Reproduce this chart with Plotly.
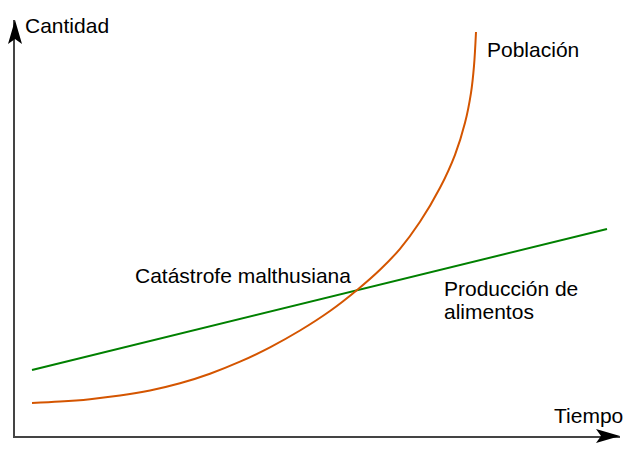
import plotly.graph_objects as go

# units: arbitrary time / quantity (origin at the axes corner)
tiempo_poblacion = [17, 45, 75, 105, 135, 165, 195, 225, 255, 285, 315, 343, 365, 385,
                    405, 425, 440, 450, 456, 459, 461]
poblacion = [33, 34.4, 36.8, 40.4, 45.5, 52.7, 62.3, 74.3, 88.7, 105.5, 125, 146.8, 166.2, 187.2,
             214.2, 248.2, 281.2, 313.2, 343.2, 370.2, 404]

tiempo_alimentos = [17, 592]
alimentos = [66, 207]

etiquetas = [
    ("Cantidad", 8, 411),
    ("Población", 470, 387),
    ("Catástrofe malthusiana", 118, 161),
    ("Producción de", 427, 148),
    ("alimentos", 427, 125),
    ("Tiempo", 537, 21),
]

AXIS = "#444444"
FONT = "Liberation Sans, Arial, sans-serif"

fig = go.Figure()
fig.add_trace(go.Scatter(x=tiempo_alimentos, y=alimentos, mode="lines",
                         line=dict(color="#008000", width=2), hoverinfo="skip"))
fig.add_trace(go.Scatter(x=tiempo_poblacion, y=poblacion, mode="lines",
                         line=dict(color="#d45500", width=2, shape="spline", smoothing=1),
                         hoverinfo="skip"))

for texto, x, y in etiquetas:
    fig.add_annotation(x=x, y=y, text=texto, showarrow=False, xanchor="left", yanchor="middle",
                       font=dict(family=FONT, size=21, color="black"))

# arrow heads at the end of both axes (paper refs so they are not clipped)
fig.add_shape(type="path", xref="paper", yref="paper", xsizemode="pixel", ysizemode="pixel",
              xanchor=1, yanchor=0, path="M 0,0 L -24,7 L -19,0 L -24,-7 Z",
              fillcolor="black", line=dict(width=0))
fig.add_shape(type="path", xref="paper", yref="paper", xsizemode="pixel", ysizemode="pixel",
              xanchor=0, yanchor=1, path="M 0,0 L 7,-24 L 0,-19 L -7,-24 Z",
              fillcolor="black", line=dict(width=0))

fig.update_xaxes(range=[0, 605], showline=True, linecolor=AXIS, linewidth=2, showgrid=False,
                 zeroline=False, showticklabels=False, ticks="")
fig.update_yaxes(range=[0, 416], showline=True, linecolor=AXIS, linewidth=2, showgrid=False,
                 zeroline=False, showticklabels=False, ticks="")
# page body has an 8px margin, so the figure is 8px smaller than the window
fig.update_layout(width=632, height=446, margin=dict(l=7, r=20, t=12, b=18),
                  plot_bgcolor="white", paper_bgcolor="white", showlegend=False)

fig.write_html("out.html")
